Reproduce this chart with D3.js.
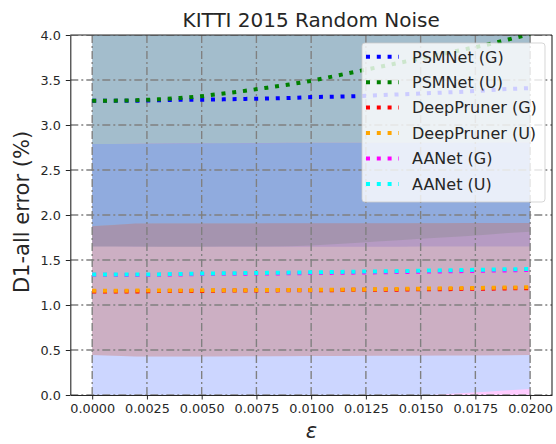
<!DOCTYPE html>
<html>
<head>
<meta charset="utf-8">
<script src="https://cdn.jsdelivr.net/npm/d3@7"></script>
<style>
  html, body { margin: 0; padding: 0; background: #fff; }
  svg { display: block; font-family: "DejaVu Sans", sans-serif; }
</style>
</head>
<body>
<svg id="chart" width="556" height="444"></svg>
<script>
// Noise magnitude (epsilon) sampled along the x axis
const eps = [0, 0.001, 0.002, 0.003, 0.004, 0.005, 0.006, 0.007, 0.008, 0.009, 0.010,
             0.011, 0.012, 0.013, 0.014, 0.015, 0.016, 0.017, 0.018, 0.019, 0.020];

// Mean D1-all error (%) per model / noise type
const psmG = [3.27, 3.27, 3.27, 3.275, 3.28, 3.28, 3.285, 3.29, 3.295, 3.30, 3.31,
              3.315, 3.32, 3.33, 3.34, 3.35, 3.36, 3.37, 3.385, 3.40, 3.41];
const psmU = [3.27, 3.27, 3.275, 3.285, 3.30, 3.32, 3.35, 3.38, 3.415, 3.45, 3.49,
              3.54, 3.59, 3.64, 3.69, 3.74, 3.79, 3.84, 3.89, 3.95, 4.01];
const dpG  = [1.15, 1.15, 1.15, 1.155, 1.155, 1.155, 1.16, 1.16, 1.16, 1.165, 1.165,
              1.165, 1.17, 1.17, 1.17, 1.175, 1.175, 1.18, 1.18, 1.185, 1.185];
const dpU  = [1.158, 1.158, 1.16, 1.16, 1.162, 1.163, 1.164, 1.165, 1.166, 1.166, 1.167,
              1.17, 1.172, 1.175, 1.178, 1.182, 1.185, 1.188, 1.191, 1.194, 1.197];
const aaG  = [1.335, 1.335, 1.333, 1.335, 1.339, 1.344, 1.346, 1.348, 1.35, 1.352, 1.355,
              1.357, 1.36, 1.363, 1.366, 1.37, 1.373, 1.377, 1.381, 1.385, 1.389];
const aaU  = [1.34, 1.34, 1.338, 1.34, 1.345, 1.35, 1.352, 1.355, 1.357, 1.36, 1.363,
              1.366, 1.37, 1.373, 1.377, 1.381, 1.385, 1.389, 1.393, 1.397, 1.40];

// Spread bands (lower / upper) per model / noise type
const psmGLo = [1.65, 1.65, 1.648, 1.648, 1.647, 1.647, 1.647, 1.648, 1.648, 1.648, 1.648,
                1.648, 1.648, 1.648, 1.648, 1.649, 1.649, 1.649, 1.65, 1.65, 1.65];
const psmGHi = [4.89, 4.89, 4.89, 4.90, 4.91, 4.91, 4.92, 4.93, 4.94, 4.95, 4.96,
                4.97, 4.98, 5.00, 5.02, 5.04, 5.06, 5.08, 5.10, 5.13, 5.16];
const psmULo = [1.65, 1.65, 1.65, 1.648, 1.648, 1.648, 1.65, 1.65, 1.65, 1.652, 1.66,
                1.675, 1.69, 1.705, 1.72, 1.735, 1.75, 1.765, 1.78, 1.80, 1.815];
const psmUHi = [4.89, 4.89, 4.90, 4.92, 4.95, 4.99, 5.05, 5.11, 5.18, 5.25, 5.32,
                5.40, 5.49, 5.58, 5.66, 5.75, 5.83, 5.92, 6.00, 6.10, 6.20];
const dpGLo  = [0.444, 0.436, 0.428, 0.427, 0.427, 0.428, 0.429, 0.43, 0.43, 0.431, 0.432,
                0.433, 0.434, 0.435, 0.436, 0.437, 0.438, 0.439, 0.44, 0.442, 0.444];
const dpGHi  = [1.876, 1.89, 1.905, 1.906, 1.906, 1.906, 1.906, 1.906, 1.907, 1.907, 1.907,
                1.907, 1.908, 1.908, 1.908, 1.909, 1.909, 1.91, 1.91, 1.91, 1.91];
const dpULo  = [0.445, 0.437, 0.429, 0.428, 0.428, 0.429, 0.43, 0.431, 0.431, 0.432, 0.433,
                0.434, 0.435, 0.436, 0.437, 0.438, 0.439, 0.44, 0.441, 0.443, 0.445];
const dpUHi  = [1.877, 1.891, 1.906, 1.907, 1.907, 1.907, 1.907, 1.907, 1.908, 1.908, 1.908,
                1.908, 1.909, 1.909, 1.909, 1.91, 1.91, 1.911, 1.911, 1.911, 1.911];
const aaGLo  = [-0.12, -0.12, -0.12, -0.115, -0.11, -0.11, -0.105, -0.10, -0.10, -0.095, -0.09,
                -0.085, -0.08, -0.075, -0.07, -0.065, -0.06, -0.055, -0.05, -0.045, -0.04];
const aaGHi  = [2.79, 2.79, 2.792, 2.794, 2.796, 2.797, 2.798, 2.80, 2.801, 2.802, 2.802,
                2.802, 2.802, 2.802, 2.803, 2.803, 2.803, 2.804, 2.804, 2.805, 2.805];
const aaULo  = [-0.17, -0.16, -0.15, -0.14, -0.13, -0.12, -0.11, -0.10, -0.09, -0.082, -0.075,
                -0.065, -0.055, -0.04, -0.023, -0.008, 0.007, 0.022, 0.037, 0.052, 0.067];
const aaUHi  = [2.788, 2.788, 2.79, 2.792, 2.794, 2.795, 2.796, 2.797, 2.798, 2.799, 2.80,
                2.80, 2.80, 2.80, 2.80, 2.801, 2.801, 2.802, 2.802, 2.803, 2.803];

const seriesNames  = ["PSMNet (G)", "PSMNet (U)", "DeepPruner (G)", "DeepPruner (U)", "AANet (G)", "AANet (U)"];
const seriesColors = ["#0000ff", "#008000", "#ff0000", "#ffa500", "#ff00ff", "#00ffff"];
const seriesMeans  = [psmG, psmU, dpG, dpU, aaG, aaU];
const seriesLo     = [psmGLo, psmULo, dpGLo, dpULo, aaGLo, aaULo];
const seriesHi     = [psmGHi, psmUHi, dpGHi, dpUHi, aaGHi, aaUHi];

const yTicks = [0, 0.5, 1.0, 1.5, 2.0, 2.5, 3.0, 3.5, 4.0];
const xTicks = [0, 0.0025, 0.005, 0.0075, 0.01, 0.0125, 0.015, 0.0175, 0.02];

const plot = { left: 70.3, right: 552, top: 35, bottom: 395 };

const svg = d3.select("#chart");
const x = d3.scaleLinear().domain([-0.001, 0.021]).range([plot.left, plot.right]);
const y = d3.scaleLinear().domain([0, 4]).range([plot.bottom, plot.top]);

svg.append("defs").append("clipPath").attr("id", "plotClip")
  .append("rect")
  .attr("x", plot.left).attr("y", plot.top)
  .attr("width", plot.right - plot.left).attr("height", plot.bottom - plot.top);

const body = svg.append("g").attr("clip-path", "url(#plotClip)");

// Translucent spread bands
const area = d3.area()
  .x((d, i) => x(eps[i]))
  .y0(d => y(d[0]))
  .y1(d => y(d[1]));

seriesNames.forEach((name, s) => {
  const pts = eps.map((e, i) => [seriesLo[s][i], seriesHi[s][i]]);
  body.append("path")
    .attr("d", area(pts))
    .attr("fill", seriesColors[s])
    .attr("fill-opacity", 0.2);
});

// Dash-dot grid
const grid = body.append("g")
  .attr("stroke", "#808080")
  .attr("stroke-width", 1.4)
  .attr("stroke-dasharray", "8,3,2,3")
  .attr("fill", "none");
yTicks.forEach(t => {
  grid.append("line")
    .attr("x1", plot.left).attr("x2", plot.right)
    .attr("y1", y(t)).attr("y2", y(t));
});
xTicks.forEach(t => {
  grid.append("line")
    .attr("x1", x(t)).attr("x2", x(t))
    .attr("y1", plot.top).attr("y2", plot.bottom);
});

// Dotted mean curves
const line = d3.line().x((d, i) => x(eps[i])).y(d => y(d));
seriesNames.forEach((name, s) => {
  body.append("path")
    .attr("d", line(seriesMeans[s]))
    .attr("fill", "none")
    .attr("stroke", seriesColors[s])
    .attr("stroke-width", 4)
    .attr("stroke-dasharray", "4,6.8");
});

// Axes
const yAxis = d3.axisLeft(y).tickValues(yTicks).tickFormat(d3.format(".1f"))
  .tickSize(4.5).tickSizeOuter(0).tickPadding(5);
const xAxis = d3.axisBottom(x).tickValues(xTicks).tickFormat(d3.format(".4f"))
  .tickSize(4.5).tickSizeOuter(0).tickPadding(4);

const gy = svg.append("g").attr("transform", `translate(${plot.left},0)`).call(yAxis);
const gx = svg.append("g").attr("transform", `translate(0,${plot.bottom})`).call(xAxis);
[gx, gy].forEach(g => {
  g.selectAll("text").attr("font-size", 12.8).attr("fill", "#262626")
    .attr("font-family", "DejaVu Sans");
  g.selectAll("line").attr("stroke", "#262626").attr("stroke-width", 1);
  g.select(".domain").attr("stroke", "#262626").attr("stroke-width", 1.1);
});

// Top and right spines
svg.append("line").attr("x1", plot.left).attr("x2", plot.right)
  .attr("y1", plot.top).attr("y2", plot.top)
  .attr("stroke", "#262626").attr("stroke-width", 1.1);
svg.append("line").attr("x1", plot.right).attr("x2", plot.right)
  .attr("y1", plot.top).attr("y2", plot.bottom)
  .attr("stroke", "#262626").attr("stroke-width", 1.1);

// Title and axis labels
svg.append("text")
  .attr("x", (plot.left + plot.right) / 2).attr("y", 27)
  .attr("text-anchor", "middle").attr("font-size", 20).attr("fill", "#262626")
  .text("KITTI 2015 Random Noise");

svg.append("text")
  .attr("transform", `translate(29,${(plot.top + plot.bottom) / 2 - 3}) rotate(-90)`)
  .attr("text-anchor", "middle").attr("font-size", 21).attr("fill", "#262626")
  .text("D1-all error (%)");

svg.append("text")
  .attr("x", 311.5).attr("y", 438)
  .attr("text-anchor", "middle").attr("font-size", 21).attr("font-style", "italic")
  .attr("fill", "#262626")
  .text("ε");

// Legend
const legend = svg.append("g");
legend.append("rect")
  .attr("x", 362).attr("y", 43).attr("width", 183).attr("height", 159)
  .attr("rx", 3).attr("ry", 3)
  .attr("fill", "#ffffff").attr("fill-opacity", 0.8)
  .attr("stroke", "#cccccc").attr("stroke-opacity", 0.8).attr("stroke-width", 1);

seriesNames.forEach((name, s) => {
  const cy = 56.7 + s * 25.45;
  legend.append("line")
    .attr("x1", 366).attr("x2", 399).attr("y1", cy).attr("y2", cy)
    .attr("stroke", seriesColors[s]).attr("stroke-width", 4)
    .attr("stroke-dasharray", "4,6.8");
  legend.append("text")
    .attr("x", 412).attr("y", cy + 5.8)
    .attr("font-size", 16).attr("fill", "#262626")
    .text(name);
});
</script>
</body>
</html>
